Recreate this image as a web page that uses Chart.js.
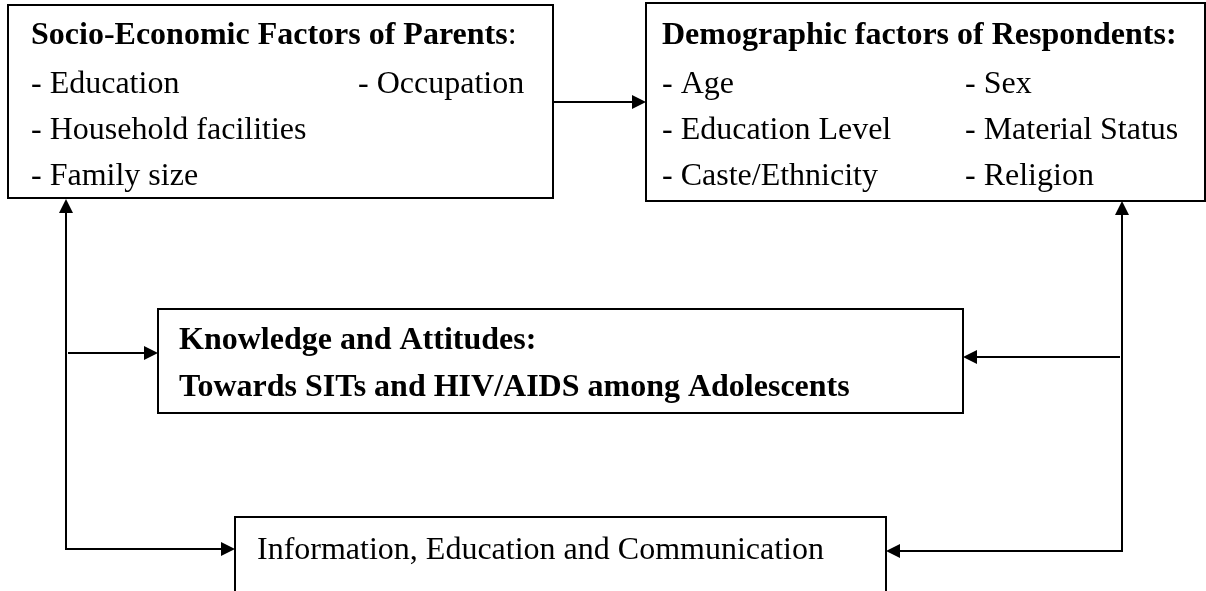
<!DOCTYPE html>
<html>
<head>
<meta charset="utf-8">
<script src="https://cdn.jsdelivr.net/npm/chart.js@4.4.1/dist/chart.umd.min.js"></script>
<style>
  html, body { margin: 0; padding: 0; background: #fff; }
  canvas { display: block; }
</style>
</head>
<body>
<canvas id="framework" width="1206" height="591"></canvas>
<script>
// text content of the framework
const parentTitle = 'Socio-Economic Factors of Parents';
const parentItems = ['- Education', '- Occupation', '- Household facilities', '- Family size'];
const respondentTitle = 'Demographic factors of Respondents:';
const respondentLeft = ['- Age', '- Education Level', '- Caste/Ethnicity'];
const respondentRight = ['- Sex', '- Material Status', '- Religion'];
const knowledgeLines = ['Knowledge and Attitudes:', 'Towards SITs and HIV/AIDS among Adolescents'];
const iecLabel = 'Information, Education and Communication';

// layout in scale units (0..1206 x 0..591)
const boxes = {
    parent: { x1: 8, y1: 5, x2: 553, y2: 198 },
    respondent: { x1: 646, y1: 3, x2: 1205, y2: 201 },
    knowledge: { x1: 158, y1: 309, x2: 963, y2: 413 },
    iec: { x1: 235, y1: 517, x2: 886, y2: 620 }
};
const leftX = 66, rightX = 1122;

const serif = '"Liberation Serif", "Times New Roman", serif';

const diagramPlugin = {
    id: 'diagram',
    afterDraw(chart) {
        const ctx = chart.ctx;
        const sx = v => chart.scales.x.getPixelForValue(v);
        const sy = v => chart.scales.y.getPixelForValue(v);

        ctx.save();
        ctx.strokeStyle = '#000';
        ctx.fillStyle = '#000';
        ctx.lineWidth = 2;

        // boxes
        Object.values(boxes).forEach(b => {
            ctx.strokeRect(sx(b.x1), sy(b.y1), sx(b.x2) - sx(b.x1), sy(b.y2) - sy(b.y1));
        });

        function line(pts) {
            ctx.beginPath();
            ctx.moveTo(sx(pts[0][0]), sy(pts[0][1]));
            for (let i = 1; i < pts.length; i++) ctx.lineTo(sx(pts[i][0]), sy(pts[i][1]));
            ctx.stroke();
        }
        // arrow head at (x,y) pointing in direction dir
        function head(x, y, dir) {
            const px = sx(x), py = sy(y), L = 14, W = 7;
            ctx.beginPath();
            ctx.moveTo(px, py);
            if (dir === 'right') { ctx.lineTo(px - L, py - W); ctx.lineTo(px - L, py + W); }
            if (dir === 'left') { ctx.lineTo(px + L, py - W); ctx.lineTo(px + L, py + W); }
            if (dir === 'up') { ctx.lineTo(px - W, py + L); ctx.lineTo(px + W, py + L); }
            ctx.closePath();
            ctx.fill();
        }

        // parents -> respondents
        line([[553, 102], [640, 102]]);
        head(646, 102, 'right');

        // left connector
        line([[leftX, 205], [leftX, 549], [229, 549]]);
        head(leftX, 199, 'up');
        head(235, 549, 'right');
        line([[leftX + 2, 353], [152, 353]]);
        head(158, 353, 'right');

        // right connector
        line([[rightX, 207], [rightX, 551], [892, 551]]);
        head(rightX, 201, 'up');
        head(886, 551, 'left');
        line([[rightX - 2, 357], [969, 357]]);
        head(963, 357, 'left');

        // text
        ctx.textBaseline = 'alphabetic';
        ctx.textAlign = 'left';
        ctx.font = 'bold 32px ' + serif;
        ctx.fillText(parentTitle, sx(31), sy(44));
        const w = ctx.measureText(parentTitle).width;
        ctx.font = '32px ' + serif;
        ctx.fillText(':', sx(31) + w, sy(44));
        ctx.fillText(parentItems[0], sx(31), sy(93));
        ctx.fillText(parentItems[1], sx(358), sy(93));
        ctx.fillText(parentItems[2], sx(31), sy(139));
        ctx.fillText(parentItems[3], sx(31), sy(185));

        ctx.font = 'bold 32px ' + serif;
        ctx.fillText(respondentTitle, sx(662), sy(44));
        ctx.font = '32px ' + serif;
        respondentLeft.forEach((t, i) => ctx.fillText(t, sx(662), sy(93 + i * 46)));
        respondentRight.forEach((t, i) => ctx.fillText(t, sx(965), sy(93 + i * 46)));

        ctx.font = 'bold 32px ' + serif;
        knowledgeLines.forEach((t, i) => ctx.fillText(t, sx(179), sy(349 + i * 47)));

        ctx.font = '32px ' + serif;
        ctx.fillText(iecLabel, sx(257), sy(559));

        ctx.restore();
    }
};

new Chart(document.getElementById('framework'), {
    type: 'scatter',
    data: { datasets: [{ data: [] }] },
    options: {
        responsive: false,
        animation: false,
        layout: { padding: 0 },
        plugins: { legend: { display: false }, tooltip: { enabled: false } },
        scales: {
            x: { type: 'linear', min: 0, max: 1206, display: false },
            y: { type: 'linear', min: 0, max: 591, reverse: true, display: false }
        }
    },
    plugins: [diagramPlugin]
});
</script>
</body>
</html>
